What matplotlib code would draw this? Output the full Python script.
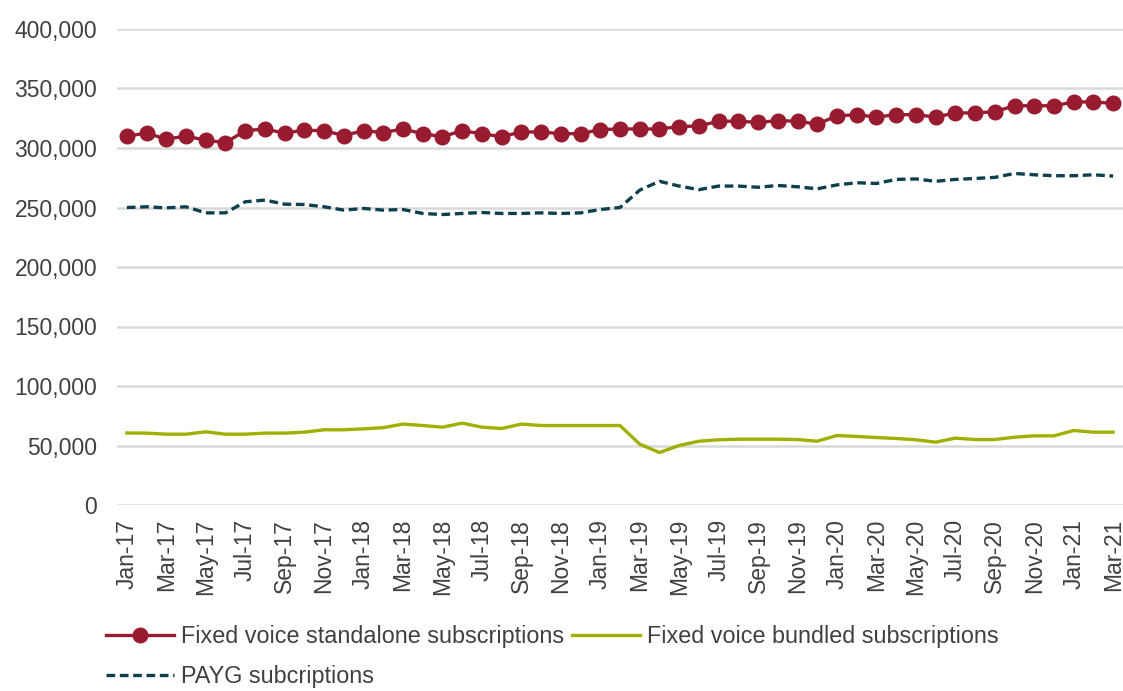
import matplotlib
matplotlib.use("Agg")
import matplotlib.pyplot as plt
from matplotlib.ticker import FuncFormatter, MultipleLocator

plt.rcParams['font.family'] = ['Liberation Sans', 'DejaVu Sans']

months = ["Jan-17", "Feb-17", "Mar-17", "Apr-17", "May-17", "Jun-17", "Jul-17", "Aug-17", "Sep-17", "Oct-17", "Nov-17", "Dec-17",
          "Jan-18", "Feb-18", "Mar-18", "Apr-18", "May-18", "Jun-18", "Jul-18", "Aug-18", "Sep-18", "Oct-18", "Nov-18", "Dec-18",
          "Jan-19", "Feb-19", "Mar-19", "Apr-19", "May-19", "Jun-19", "Jul-19", "Aug-19", "Sep-19", "Oct-19", "Nov-19", "Dec-19",
          "Jan-20", "Feb-20", "Mar-20", "Apr-20", "May-20", "Jun-20", "Jul-20", "Aug-20", "Sep-20", "Oct-20", "Nov-20", "Dec-20",
          "Jan-21", "Feb-21", "Mar-21"]

standalone = [310000, 312500, 307500, 310000, 306500, 304500, 314500, 316000, 312500, 315000, 314500, 310500,
              314500, 313000, 316000, 312000, 309500, 314500, 312000, 309500, 313500, 313500, 312000, 312000,
              315500, 316000, 316000, 316000, 318000, 318500, 322500, 322500, 321500, 323000, 322500, 320000,
              327000, 328000, 326000, 328000, 328000, 326000, 329500, 329500, 330500, 335500, 335500, 335500,
              338700, 338700, 337500]

bundled = [60500, 60400, 59500, 59500, 61500, 59500, 59500, 60400, 60400, 61200, 63200, 63200,
           64000, 65000, 68000, 66800, 65400, 68800, 65400, 64300, 68000, 66800, 66800, 66800,
           66800, 66800, 51100, 44100, 50000, 53600, 54800, 55300, 55300, 55300, 55000, 53600,
           58400, 57600, 56700, 55900, 54800, 52800, 56200, 55000, 55000, 57000, 58100, 58100,
           62600, 61200, 61200]

payg = [250000, 250600, 249700, 250600, 245500, 245500, 254800, 256200, 252800, 252500, 250600, 247800,
        249200, 247800, 248300, 245000, 244100, 245000, 245800, 245000, 245000, 245500, 245000, 245500,
        248300, 250000, 264600, 272000, 268000, 265000, 268000, 268000, 267000, 268500, 267400, 265700,
        269000, 270800, 270200, 273600, 274000, 272000, 273600, 274400, 275300, 278600, 277500, 276700,
        276700, 277500, 276400]

x = list(range(len(months)))
text_color = "#404040"

fig = plt.figure(figsize=(11.23, 6.91), dpi=100)
ax = fig.add_axes([117/1123, 1 - 505/691, 1006/1123, (505 - 29)/691])

l1, = ax.plot(x, standalone, color="#981B30", lw=2.4, marker="o", markersize=10.5,
              label="Fixed voice standalone subscriptions", zorder=4)
l2, = ax.plot(x, bundled, color="#A0B000", lw=2.4,
              label="Fixed voice bundled subscriptions", zorder=3)
l3, = ax.plot(x, payg, color="#0D3F4C", lw=2.4, linestyle=(0, (2.6, 1.4)),
              label="PAYG subcriptions", zorder=3)

ax.set_ylim(0, 400000)
ax.set_xlim(-0.5, len(months) - 0.5)
ax.yaxis.set_major_locator(MultipleLocator(50000))
ax.yaxis.set_major_formatter(FuncFormatter(lambda v, p: f"{int(v):,}"))
ax.set_xticks(x[::2])
ax.set_xticklabels(months[::2], rotation=90)
ax.grid(axis="y", color="#D9D9D9", lw=1.8)
ax.set_axisbelow(True)
for s in ax.spines.values():
    s.set_visible(False)
ax.tick_params(axis="both", length=0, labelsize=16.5, colors=text_color)
ax.tick_params(axis="y", pad=14.4)
ax.tick_params(axis="x", pad=10)

leg = fig.legend(handles=[l1, l3, l2], loc="upper left", ncol=2,
                 bbox_to_anchor=(97/1123, 1 - 616/691), frameon=False,
                 fontsize=16.8, handlelength=2.9, handletextpad=0.3,
                 columnspacing=0.35, labelspacing=0.7, borderaxespad=0)
for t in leg.get_texts():
    t.set_color(text_color)

fig.savefig("out.png", dpi=100)
